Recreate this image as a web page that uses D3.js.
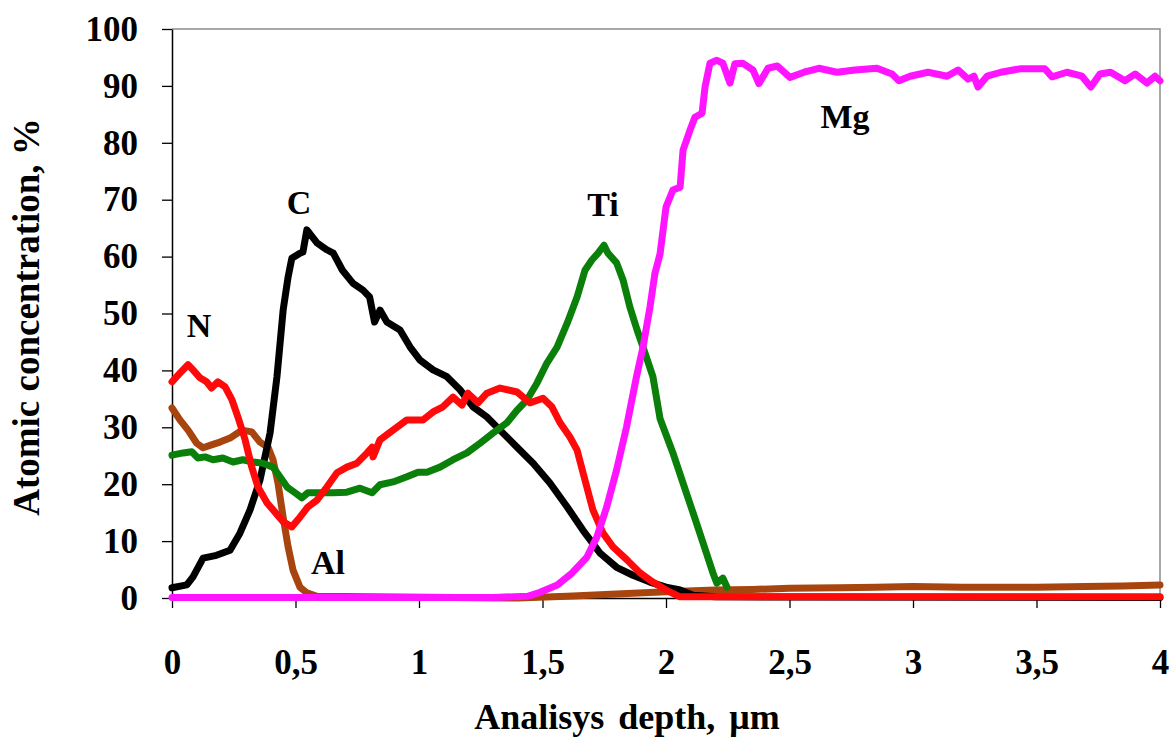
<!DOCTYPE html>
<html>
<head>
<meta charset="utf-8">
<script src="https://cdn.jsdelivr.net/npm/d3@7"></script>
<style>
  body { margin: 0; background: #fff; }
  text { font-family: "Liberation Serif", "Times New Roman", serif; font-weight: bold; }
</style>
</head>
<body>
<script>
// depth profile: [depth um, atomic %]
var xTicks = [0, 0.5, 1, 1.5, 2, 2.5, 3, 3.5, 4];
var yTicks = [0, 10, 20, 30, 40, 50, 60, 70, 80, 90, 100];

var carbon = [[0,1.8],[0.06,2.3],[0.085,3.7],[0.126,7],[0.18,7.5],[0.235,8.4],[0.275,11.4],[0.316,15.5],
  [0.356,20.7],[0.397,29],[0.425,38.9],[0.45,50.6],[0.47,56.4],[0.485,59.7],[0.518,60.6],[0.53,60.8],
  [0.546,64.7],[0.587,62.4],[0.627,61.2],[0.653,60.6],[0.69,57.6],[0.733,55.3],[0.773,54.1],[0.8,52.9],
  [0.82,48.5],[0.842,50.6],[0.87,48.5],[0.923,47.1],[0.964,44.1],[1.004,41.8],[1.057,40.1],[1.113,38.9],
  [1.166,36.6],[1.219,33.6],[1.275,31.8],[1.328,29.5],[1.397,26.5],[1.462,23.7],[1.53,20.2],[1.6,16],
  [1.664,11.9],[1.733,7.9],[1.8,5.4],[1.866,4],[1.935,2.8],[2,1.9],[2.057,1.4],[2.11,0.5],[2.2,0.2],[4,0.1]];

var nitrogen = [[0,38],[0.032,39.5],[0.065,41],[0.085,40.1],[0.113,38.7],[0.14,38],[0.16,36.9],[0.186,38],
  [0.215,37.1],[0.243,34.8],[0.267,31.8],[0.296,27.8],[0.323,23],[0.348,19.5],[0.385,16.7],[0.417,15.1],
  [0.45,13.4],[0.485,12.5],[0.518,14.2],[0.55,16],[0.587,17.2],[0.627,19.5],[0.668,22],[0.708,23],
  [0.749,23.7],[0.79,25.5],[0.81,26.5],[0.814,24.8],[0.842,27.8],[0.895,29.5],[0.951,31.3],[1.016,31.3],
  [1.057,32.7],[1.097,33.6],[1.138,35.3],[1.174,33.9],[1.198,36],[1.239,34.3],[1.275,36],[1.328,36.9],
  [1.397,36.2],[1.449,34.3],[1.502,35.1],[1.538,33.6],[1.571,30.8],[1.611,28.3],[1.64,26],[1.672,20.7],
  [1.704,15.5],[1.745,11.4],[1.785,9],[1.842,6.7],[1.895,4.4],[1.947,2.8],[2,1.4],[2.057,0.2],[4,0.2]];

var titanium = [[0,25.1],[0.045,25.5],[0.08,25.7],[0.105,24.6],[0.134,24.8],[0.166,24.3],[0.206,24.6],
  [0.247,23.9],[0.287,24.3],[0.328,23.9],[0.368,23.7],[0.409,23],[0.437,21.3],[0.466,19.5],[0.498,18.5],
  [0.526,17.6],[0.55,18.5],[0.599,18.5],[0.652,18.5],[0.708,18.6],[0.761,19.3],[0.81,18.5],[0.842,19.9],
  [0.895,20.4],[0.951,21.3],[0.996,22.1],[1.032,22.1],[1.085,23],[1.138,24.3],[1.194,25.5],[1.247,27.2],
  [1.3,29],[1.356,30.8],[1.397,33],[1.437,34.8],[1.478,37.8],[1.518,41.3],[1.559,44.1],[1.6,48.3],
  [1.64,52.9],[1.672,57.6],[1.7,59.4],[1.725,60.6],[1.749,62],[1.765,60.6],[1.8,58.9],[1.826,55.9],
  [1.854,51.1],[1.883,47.1],[1.907,44.1],[1.947,38.9],[1.976,31.5],[2.028,25.5],[2.069,20.2],[2.11,14.9],
  [2.15,9.7],[2.19,4.4],[2.206,2.6],[2.23,3.5],[2.247,1.9]];

var aluminium = [[0,33.4],[0.032,31.3],[0.065,29.5],[0.1,27.2],[0.126,26.4],[0.16,26.9],[0.194,27.4],
  [0.235,28.1],[0.283,29.5],[0.323,29.2],[0.356,27.4],[0.389,26.5],[0.409,24.3],[0.429,20.2],[0.45,14.2],
  [0.47,9],[0.49,4.9],[0.518,1.9],[0.546,0.9],[0.587,0.3],[1.4,0],[1.6,0.3],[1.8,0.7],[2,1.1],[2.2,1.4],
  [2.35,1.5],[2.5,1.7],[2.7,1.8],[2.85,1.9],[3,2],[3.2,1.9],[3.5,1.9],[3.7,2],[3.85,2.1],[4,2.3]];

var magnesium = [[0,0.1],[1.3,0.1],[1.44,0.3],[1.49,1],[1.56,2.3],[1.62,4.4],[1.68,7.2],[1.72,10.7],
  [1.76,16],[1.8,22.5],[1.84,30],[1.88,38.8],[1.907,44.1],[1.935,51.1],[1.955,57],[1.976,60.5],[2,68.7],
  [2.028,71.7],[2.057,72.2],[2.069,78.7],[2.097,82.2],[2.117,84.5],[2.146,85.2],[2.158,89.8],[2.178,94],
  [2.206,94.5],[2.23,94],[2.259,90.5],[2.279,93.9],[2.31,94],[2.352,92.8],[2.376,90.4],[2.413,93.1],
  [2.45,93.5],[2.502,91.5],[2.559,92.4],[2.619,93.1],[2.692,92.4],[2.765,92.8],[2.854,93.1],[2.915,92.1],
  [2.943,90.9],[2.988,91.7],[3.061,92.4],[3.138,91.7],[3.182,92.8],[3.223,91.2],[3.247,91.7],[3.263,89.8],
  [3.3,91.7],[3.356,92.4],[3.433,93],[3.534,93],[3.563,91.6],[3.623,92.4],[3.684,91.7],[3.72,89.8],
  [3.757,92.1],[3.8,92.4],[3.858,90.9],[3.9,92.1],[3.947,90.5],[3.98,91.7],[4,90.9]];

var width = 1172, height = 740;
var svg = d3.select('body').append('svg')
  .attr('width', width)
  .attr('height', height);

var x = d3.scaleLinear().domain([0, 4]).range([172, 1160]);
var y = d3.scaleLinear().domain([0, 100]).range([598, 29]);

// grey frame on top and right, like the original
svg.append('path')
  .attr('d', 'M' + x(0) + ',' + y(100) + 'H' + x(4) + 'V' + y(0))
  .attr('fill', 'none')
  .attr('stroke', '#8c8c8c')
  .attr('stroke-width', 1.5);

var yAxis = svg.append('g')
  .attr('transform', 'translate(' + x(0) + ',0)')
  .call(d3.axisLeft(y).tickValues(yTicks).tickSize(10).tickPadding(24).tickSizeOuter(0));
var xAxis = svg.append('g')
  .attr('transform', 'translate(0,' + y(0) + ')')
  .call(d3.axisBottom(x).tickValues(xTicks).tickSize(10).tickPadding(41).tickSizeOuter(0)
    .tickFormat(function(d) { return String(d).replace('.', ','); }));

[yAxis, xAxis].forEach(function(g) {
  g.select('.domain').attr('stroke', '#000').attr('stroke-width', 1.5);
  g.selectAll('.tick line').attr('stroke', '#000').attr('stroke-width', 1.3);
  g.selectAll('.tick text')
    .attr('fill', '#000')
    .style('font-family', '"Liberation Serif", "Times New Roman", serif')
    .style('font-weight', 'bold')
    .style('font-size', '35px');
});

var line = d3.line()
  .x(function(d) { return x(d[0]); })
  .y(function(d) { return y(d[1]); });

var series = [
  {name: 'Al', data: aluminium, color: '#a8450f'},
  {name: 'C', data: carbon, color: '#000000'},
  {name: 'Ti', data: titanium, color: '#0a800a'},
  {name: 'N', data: nitrogen, color: '#ff0a0a'},
  {name: 'Mg', data: magnesium, color: '#ff14ff'}
];

svg.append('g').selectAll('path')
  .data(series)
  .enter().append('path')
  .attr('d', function(s) { return line(s.data); })
  .attr('fill', 'none')
  .attr('stroke', function(s) { return s.color; })
  .attr('stroke-width', 7)
  .attr('stroke-linejoin', 'round')
  .attr('stroke-linecap', 'round');

// element names next to curves
var labels = [
  {text: 'N', px: 199, py: 337},
  {text: 'C', px: 299, py: 214},
  {text: 'Ti', px: 603, py: 216},
  {text: 'Mg', px: 845, py: 128},
  {text: 'Al', px: 328, py: 574}
];
svg.append('g').selectAll('text')
  .data(labels)
  .enter().append('text')
  .attr('x', function(d) { return d.px; })
  .attr('y', function(d) { return d.py; })
  .attr('text-anchor', 'middle')
  .style('font-size', '34px')
  .text(function(d) { return d.text; });

svg.append('text')
  .attr('x', 627)
  .attr('y', 729)
  .attr('text-anchor', 'middle')
  .style('font-size', '36px')
  .style('word-spacing', '5px')
  .text('Analisys depth, μm');

svg.append('text')
  .attr('transform', 'translate(39,317) rotate(-90)')
  .attr('text-anchor', 'middle')
  .style('font-size', '37px')
  .text('Atomic concentration, %');
</script>
</body>
</html>
